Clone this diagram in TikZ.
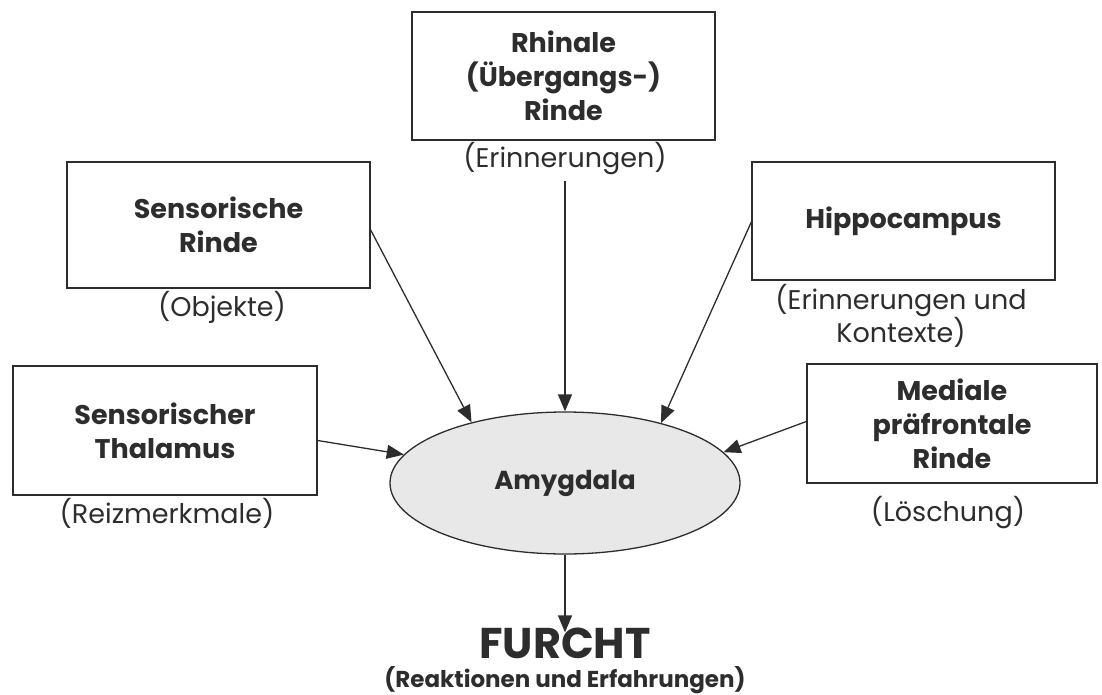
\documentclass[tikz,border=0pt]{standalone}
\usepackage{fontspec}
\setmainfont{Poppins}
\usetikzlibrary{arrows.meta,shapes.geometric}
\definecolor{ink}{RGB}{45,45,45}
\tikzset{
  box/.style={draw=ink, line width=1.4pt, minimum width=303pt, align=center, font=\fontsize{27}{34}\selectfont\bfseries, text=ink, inner sep=0pt},
  lab/.style={align=center, font=\fontsize{27}{29}\selectfont, text=ink, inner sep=0pt},
  arr/.style={draw=ink, line width=1.3pt, -{Triangle[length=17pt,width=14pt]}},
}
\begin{document}
\begin{tikzpicture}[x=1pt,y=-1pt]
\useasboundingbox (0,0) rectangle (1102,695);
\node[box, minimum height=128pt] (rh) at (563.5,76) {Rhinale\\(Übergangs-)\\Rinde};
\node[lab] (rhl) at (565,159) {(Erinnerungen)};
\node[box, minimum height=126pt] (sr) at (218.5,225) {Sensorische\\Rinde};
\node[lab] (srl) at (222,307) {(Objekte)};
\node[box, minimum height=118pt] (hc) at (903.5,221) {Hippocampus};
\node[lab] (hcl) at (901,316) {(Erinnerungen und\\Kontexte)};
\node[box, minimum height=129pt, minimum width=304pt] (th) at (165,430.5) {Sensorischer\\Thalamus};
\node[lab] (thl) at (167,513) {(Reizmerkmale)};
\node[box, minimum height=119pt, minimum width=290pt] (mp) at (952,423.5) {Mediale\\präfrontale\\Rinde};
\node[lab] (mpl) at (948,513) {(Löschung)};
\node[ellipse, draw=ink, line width=1.3pt, fill=black!9, minimum width=350pt, minimum height=142pt, inner sep=0pt, font=\fontsize{26}{28}\selectfont\bfseries, text=ink] (am) at (565,483) {Amygdala};
\node[font=\fontsize{43}{46}\selectfont\bfseries, text=ink, inner sep=0pt] (fu) at (565,643) {FURCHT};
\node[font=\fontsize{23}{26}\selectfont\bfseries, text=ink, inner sep=0pt] (ful) at (565,680) {(Reaktionen und Erfahrungen)};
\draw[arr] ([yshift=-6pt]rhl.south) -- (am.90);
\draw[arr] ([yshift=-5pt]sr.east) -- (am.147.8);
\draw[arr] ([yshift=-1pt]hc.west) -- (am.32.7);
\draw[arr] ([yshift=-10pt]th.east) -- (am.170.6);
\draw[arr] ([yshift=2pt]mp.west) -- (am.11.4);
\draw[arr] (am.south) -- ([yshift=-5pt]fu.north);
\end{tikzpicture}
\end{document}
